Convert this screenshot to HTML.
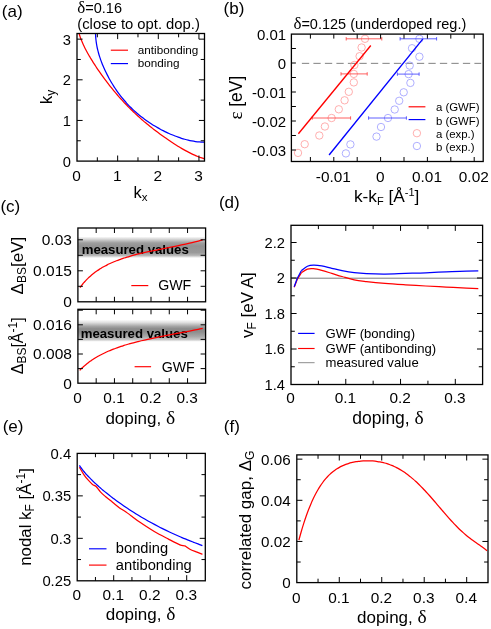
<!DOCTYPE html>
<html><head><meta charset="utf-8"><title>figure</title>
<style>html,body{margin:0;padding:0;background:#fff}svg{display:block;will-change:transform}text{fill:#000}</style>
</head><body>
<svg width="491" height="629" viewBox="0 0 491 629">
<rect x="0" y="0" width="491" height="629" fill="#fff"/>
<defs><linearGradient id="band" x1="0" y1="0" x2="0" y2="1"><stop offset="0" stop-color="#ffffff"/><stop offset="0.13" stop-color="#d4d4d4"/><stop offset="0.30" stop-color="#9e9e9e"/><stop offset="0.45" stop-color="#929292"/><stop offset="0.75" stop-color="#9a9a9a"/><stop offset="0.88" stop-color="#b6b6b6"/><stop offset="1" stop-color="#ffffff"/></linearGradient><linearGradient id="band2" x1="0" y1="0" x2="0" y2="1"><stop offset="0" stop-color="#ffffff"/><stop offset="0.14" stop-color="#dedede"/><stop offset="0.30" stop-color="#a6a6a6"/><stop offset="0.42" stop-color="#8a8a8a"/><stop offset="0.56" stop-color="#8e8e8e"/><stop offset="0.76" stop-color="#a8a8a8"/><stop offset="0.90" stop-color="#c6c6c6"/><stop offset="1" stop-color="#ffffff"/></linearGradient></defs>
<text x="1.8" y="16.8" font-size="17" text-anchor="start" font-family='"Liberation Sans", sans-serif' font-weight="normal" >(a)</text>
<text x="77.3" y="12.5" font-size="14.5" font-family='"Liberation Sans", sans-serif'><tspan font-family='"Liberation Serif", serif' font-size="17">δ</tspan>=0.16</text>
<text x="77.3" y="28.7" font-size="14.8" text-anchor="start" font-family='"Liberation Sans", sans-serif' font-weight="normal" >(close to opt. dop.)</text>
<clipPath id="clipa"><rect x="77" y="33.5" width="127.5" height="127.6"/></clipPath>
<g clip-path="url(#clipa)">
<path d="M78.13 30.32C78.29 30.88 78.74 32.58 79.08 33.68C79.42 34.78 79.78 35.86 80.16 36.92C80.53 37.98 80.93 39.02 81.34 40.05C81.75 41.08 82.17 42.09 82.61 43.09C83.05 44.08 83.51 45.07 83.97 46.04C84.43 47.01 84.91 47.97 85.4 48.92C85.88 49.88 86.38 50.82 86.89 51.75C87.39 52.68 87.9 53.6 88.43 54.52C88.95 55.44 89.48 56.34 90.01 57.25C90.55 58.15 91.09 59.04 91.64 59.93C92.18 60.82 92.74 61.7 93.3 62.58C93.86 63.46 94.42 64.33 94.99 65.2C95.56 66.07 96.13 66.93 96.71 67.79C97.29 68.65 97.87 69.51 98.46 70.36C99.04 71.21 99.63 72.06 100.23 72.9C100.82 73.74 101.42 74.58 102.02 75.42C102.62 76.25 103.23 77.08 103.84 77.91C104.45 78.74 105.06 79.56 105.68 80.39C106.29 81.21 106.91 82.02 107.54 82.84C108.16 83.65 108.79 84.46 109.42 85.26C110.05 86.07 110.69 86.87 111.33 87.67C111.97 88.46 112.61 89.26 113.26 90.05C113.91 90.84 114.56 91.62 115.22 92.4C115.87 93.19 116.53 93.96 117.2 94.74C117.86 95.51 118.53 96.28 119.2 97.04C119.87 97.8 120.55 98.56 121.23 99.32C121.92 100.08 122.6 100.83 123.29 101.57C123.98 102.32 124.68 103.06 125.38 103.8C126.08 104.53 126.78 105.27 127.49 106C128.2 106.72 128.92 107.45 129.63 108.17C130.35 108.88 131.08 109.6 131.8 110.31C132.53 111.02 133.27 111.72 134 112.42C134.74 113.12 135.48 113.82 136.23 114.51C136.97 115.2 137.72 115.88 138.48 116.57C139.24 117.25 140 117.93 140.76 118.6C141.52 119.27 142.29 119.94 143.06 120.6C143.84 121.27 144.61 121.93 145.4 122.58C146.18 123.24 146.96 123.89 147.75 124.54C148.54 125.19 149.34 125.83 150.13 126.47C150.93 127.11 151.73 127.75 152.54 128.38C153.34 129.01 154.15 129.64 154.96 130.26C155.78 130.89 156.59 131.51 157.41 132.12C158.24 132.74 159.06 133.35 159.89 133.96C160.72 134.57 161.55 135.18 162.38 135.78C163.22 136.38 164.06 136.98 164.9 137.57C165.74 138.17 166.59 138.76 167.44 139.34C168.29 139.93 169.15 140.51 170.01 141.09C170.87 141.67 171.73 142.24 172.6 142.81C173.47 143.38 174.34 143.94 175.22 144.5C176.1 145.06 176.98 145.62 177.87 146.16C178.76 146.71 179.65 147.25 180.55 147.79C181.46 148.32 182.36 148.85 183.28 149.37C184.2 149.9 185.12 150.41 186.05 150.91C186.98 151.42 187.92 151.92 188.88 152.4C189.83 152.89 190.79 153.37 191.76 153.83C192.73 154.29 193.72 154.75 194.71 155.19C195.71 155.63 196.72 156.05 197.75 156.46C198.78 156.87 199.82 157.27 200.88 157.64C201.94 158.02 203.02 158.38 204.12 158.72C205.22 159.06 206.92 159.51 207.48 159.67" fill="none" stroke="#ff0000" stroke-width="1.25" stroke-linejoin="round" />
<path d="M98.2 10.25C98 11.17 97.35 13.98 97.01 15.75C96.68 17.52 96.41 19.23 96.2 20.88C95.98 22.53 95.82 24.13 95.71 25.68C95.59 27.23 95.53 28.73 95.51 30.19C95.48 31.65 95.5 33.07 95.56 34.46C95.61 35.84 95.7 37.18 95.82 38.5C95.94 39.82 96.1 41.1 96.27 42.36C96.45 43.62 96.66 44.85 96.89 46.06C97.12 47.26 97.37 48.45 97.65 49.61C97.92 50.77 98.22 51.91 98.53 53.04C98.84 54.17 99.17 55.27 99.52 56.36C99.86 57.46 100.22 58.53 100.6 59.59C100.97 60.65 101.36 61.7 101.77 62.74C102.17 63.77 102.58 64.8 103.01 65.81C103.43 66.82 103.87 67.82 104.32 68.81C104.76 69.8 105.22 70.78 105.69 71.75C106.16 72.72 106.63 73.68 107.12 74.63C107.61 75.58 108.1 76.52 108.61 77.46C109.11 78.39 109.62 79.31 110.15 80.23C110.67 81.14 111.2 82.05 111.74 82.95C112.28 83.84 112.82 84.73 113.38 85.61C113.94 86.5 114.5 87.37 115.08 88.23C115.65 89.09 116.23 89.95 116.82 90.79C117.42 91.64 118.02 92.48 118.62 93.31C119.23 94.14 119.85 94.95 120.48 95.77C121.1 96.58 121.74 97.38 122.38 98.17C123.03 98.96 123.68 99.75 124.34 100.52C125.01 101.29 125.68 102.06 126.36 102.82C127.04 103.57 127.73 104.32 128.43 105.06C129.13 105.79 129.84 106.52 130.56 107.24C131.28 107.96 132.01 108.67 132.74 109.37C133.48 110.07 134.23 110.76 134.98 111.44C135.74 112.12 136.51 112.79 137.28 113.46C138.05 114.12 138.84 114.77 139.63 115.42C140.42 116.06 141.22 116.7 142.03 117.32C142.85 117.95 143.66 118.57 144.49 119.18C145.32 119.78 146.16 120.38 147.01 120.98C147.85 121.57 148.71 122.15 149.57 122.72C150.43 123.3 151.3 123.86 152.19 124.42C153.07 124.98 153.96 125.52 154.85 126.06C155.75 126.6 156.66 127.13 157.57 127.65C158.49 128.18 159.41 128.69 160.34 129.19C161.28 129.7 162.22 130.19 163.17 130.68C164.12 131.17 165.08 131.64 166.05 132.11C167.02 132.58 168 133.04 168.99 133.48C169.98 133.93 170.98 134.37 171.99 134.79C173 135.22 174.03 135.63 175.06 136.03C176.1 136.44 177.15 136.83 178.21 137.2C179.27 137.58 180.34 137.94 181.44 138.28C182.53 138.63 183.63 138.96 184.76 139.27C185.89 139.58 187.03 139.88 188.19 140.15C189.35 140.43 190.54 140.68 191.74 140.91C192.95 141.14 194.18 141.35 195.44 141.53C196.7 141.7 197.98 141.86 199.3 141.98C200.62 142.1 201.96 142.19 203.34 142.24C204.73 142.3 206.15 142.32 207.61 142.29C209.07 142.27 210.57 142.21 212.12 142.09C213.67 141.98 215.27 141.82 216.92 141.6C218.57 141.39 220.28 141.12 222.05 140.79C223.82 140.45 226.63 139.8 227.55 139.6" fill="none" stroke="#0000ff" stroke-width="1.25" stroke-linejoin="round" />
</g>
<rect x="77" y="33.5" width="127.5" height="127.6" fill="none" stroke="#000" stroke-width="1.3"/>
<line x1="117.65" y1="161.1" x2="117.65" y2="155.5" stroke="#000" stroke-width="1.0" />
<line x1="117.65" y1="33.5" x2="117.65" y2="39.1" stroke="#000" stroke-width="1.0" />
<line x1="158.3" y1="161.1" x2="158.3" y2="155.5" stroke="#000" stroke-width="1.0" />
<line x1="158.3" y1="33.5" x2="158.3" y2="39.1" stroke="#000" stroke-width="1.0" />
<line x1="198.95" y1="161.1" x2="198.95" y2="155.5" stroke="#000" stroke-width="1.0" />
<line x1="198.95" y1="33.5" x2="198.95" y2="39.1" stroke="#000" stroke-width="1.0" />
<line x1="97.33" y1="161.1" x2="97.33" y2="157.3" stroke="#000" stroke-width="1.0" />
<line x1="97.33" y1="33.5" x2="97.33" y2="37.3" stroke="#000" stroke-width="1.0" />
<line x1="137.97" y1="161.1" x2="137.97" y2="157.3" stroke="#000" stroke-width="1.0" />
<line x1="137.97" y1="33.5" x2="137.97" y2="37.3" stroke="#000" stroke-width="1.0" />
<line x1="178.62" y1="161.1" x2="178.62" y2="157.3" stroke="#000" stroke-width="1.0" />
<line x1="178.62" y1="33.5" x2="178.62" y2="37.3" stroke="#000" stroke-width="1.0" />
<line x1="77" y1="120.45" x2="82.6" y2="120.45" stroke="#000" stroke-width="1.0" />
<line x1="204.5" y1="120.45" x2="198.9" y2="120.45" stroke="#000" stroke-width="1.0" />
<line x1="77" y1="79.8" x2="82.6" y2="79.8" stroke="#000" stroke-width="1.0" />
<line x1="204.5" y1="79.8" x2="198.9" y2="79.8" stroke="#000" stroke-width="1.0" />
<line x1="77" y1="39.15" x2="82.6" y2="39.15" stroke="#000" stroke-width="1.0" />
<line x1="204.5" y1="39.15" x2="198.9" y2="39.15" stroke="#000" stroke-width="1.0" />
<line x1="77" y1="140.78" x2="80.8" y2="140.78" stroke="#000" stroke-width="1.0" />
<line x1="204.5" y1="140.78" x2="200.7" y2="140.78" stroke="#000" stroke-width="1.0" />
<line x1="77" y1="100.12" x2="80.8" y2="100.12" stroke="#000" stroke-width="1.0" />
<line x1="204.5" y1="100.12" x2="200.7" y2="100.12" stroke="#000" stroke-width="1.0" />
<line x1="77" y1="59.47" x2="80.8" y2="59.47" stroke="#000" stroke-width="1.0" />
<line x1="204.5" y1="59.47" x2="200.7" y2="59.47" stroke="#000" stroke-width="1.0" />
<text x="76.6" y="180.8" font-size="15.4" text-anchor="middle" font-family='"Liberation Sans", sans-serif' font-weight="normal" >0</text>
<text x="71" y="166.7" font-size="14.7" text-anchor="end" font-family='"Liberation Sans", sans-serif' font-weight="normal" >0</text>
<text x="117.25" y="180.8" font-size="15.4" text-anchor="middle" font-family='"Liberation Sans", sans-serif' font-weight="normal" >1</text>
<text x="71" y="126.05" font-size="14.7" text-anchor="end" font-family='"Liberation Sans", sans-serif' font-weight="normal" >1</text>
<text x="157.9" y="180.8" font-size="15.4" text-anchor="middle" font-family='"Liberation Sans", sans-serif' font-weight="normal" >2</text>
<text x="71" y="85.4" font-size="14.7" text-anchor="end" font-family='"Liberation Sans", sans-serif' font-weight="normal" >2</text>
<text x="198.55" y="180.8" font-size="15.4" text-anchor="middle" font-family='"Liberation Sans", sans-serif' font-weight="normal" >3</text>
<text x="71" y="44.75" font-size="14.7" text-anchor="end" font-family='"Liberation Sans", sans-serif' font-weight="normal" >3</text>
<line x1="110.8" y1="50.2" x2="128" y2="50.2" stroke="#ff0000" stroke-width="1.15" />
<line x1="110.8" y1="63.6" x2="128" y2="63.6" stroke="#0000ff" stroke-width="1.15" />
<text x="137.8" y="54.2" font-size="11.7" text-anchor="start" font-family='"Liberation Sans", sans-serif' font-weight="normal" >antibonding</text>
<text x="137.8" y="67" font-size="11.7" text-anchor="start" font-family='"Liberation Sans", sans-serif' font-weight="normal" >bonding</text>
<text x="133.6" y="198.2" font-size="16.5" font-family='"Liberation Sans", sans-serif'>k<tspan font-size="11.5" dy="3">x</tspan></text>
<text transform="translate(52.3 104.3) rotate(-90)" font-size="17" font-family='"Liberation Sans", sans-serif'>k<tspan font-size="12" dy="3">y</tspan></text>
<text x="223.6" y="14" font-size="17" text-anchor="start" font-family='"Liberation Sans", sans-serif' font-weight="normal" >(b)</text>
<text x="293.4" y="29" font-size="14.5" font-family='"Liberation Sans", sans-serif'><tspan font-family='"Liberation Serif", serif' font-size="17">δ</tspan>=0.125 (underdoped reg.)</text>
<line x1="301.9" y1="63.35" x2="481.2" y2="63.35" stroke="#6a6a6a" stroke-width="0.85" stroke-dasharray="7.3 4.2"/>
<circle cx="365" cy="38.8" r="3.7" fill="none" stroke="#ff9a9a" stroke-width="0.8"/>
<circle cx="361.6" cy="47.5" r="3.7" fill="none" stroke="#ff9a9a" stroke-width="0.8"/>
<circle cx="359.6" cy="56.2" r="3.7" fill="none" stroke="#ff9a9a" stroke-width="0.8"/>
<circle cx="354.4" cy="65" r="3.7" fill="none" stroke="#ff9a9a" stroke-width="0.8"/>
<circle cx="353.8" cy="73.9" r="3.7" fill="none" stroke="#ff9a9a" stroke-width="0.8"/>
<circle cx="353.8" cy="82.4" r="3.7" fill="none" stroke="#ff9a9a" stroke-width="0.8"/>
<circle cx="348.8" cy="91.8" r="3.7" fill="none" stroke="#ff9a9a" stroke-width="0.8"/>
<circle cx="344.6" cy="100.3" r="3.7" fill="none" stroke="#ff9a9a" stroke-width="0.8"/>
<circle cx="338.8" cy="109.3" r="3.7" fill="none" stroke="#ff9a9a" stroke-width="0.8"/>
<circle cx="331.6" cy="118" r="3.7" fill="none" stroke="#ff9a9a" stroke-width="0.8"/>
<circle cx="324.9" cy="126.5" r="3.7" fill="none" stroke="#ff9a9a" stroke-width="0.8"/>
<circle cx="319.3" cy="135.5" r="3.7" fill="none" stroke="#ff9a9a" stroke-width="0.8"/>
<circle cx="304.7" cy="144.2" r="3.7" fill="none" stroke="#ff9a9a" stroke-width="0.8"/>
<circle cx="298" cy="152.9" r="3.7" fill="none" stroke="#ff9a9a" stroke-width="0.8"/>
<circle cx="419.4" cy="38.8" r="3.7" fill="none" stroke="#9a9aff" stroke-width="0.8"/>
<circle cx="412" cy="48.2" r="3.7" fill="none" stroke="#9a9aff" stroke-width="0.8"/>
<circle cx="419.4" cy="56.7" r="3.7" fill="none" stroke="#9a9aff" stroke-width="0.8"/>
<circle cx="409.7" cy="65.6" r="3.7" fill="none" stroke="#9a9aff" stroke-width="0.8"/>
<circle cx="408.6" cy="74.1" r="3.7" fill="none" stroke="#9a9aff" stroke-width="0.8"/>
<circle cx="410.4" cy="82.9" r="3.7" fill="none" stroke="#9a9aff" stroke-width="0.8"/>
<circle cx="403.7" cy="92.3" r="3.7" fill="none" stroke="#9a9aff" stroke-width="0.8"/>
<circle cx="399.2" cy="100.8" r="3.7" fill="none" stroke="#9a9aff" stroke-width="0.8"/>
<circle cx="394.7" cy="109.5" r="3.7" fill="none" stroke="#9a9aff" stroke-width="0.8"/>
<circle cx="388" cy="118" r="3.7" fill="none" stroke="#9a9aff" stroke-width="0.8"/>
<circle cx="381" cy="127" r="3.7" fill="none" stroke="#9a9aff" stroke-width="0.8"/>
<circle cx="376.5" cy="136.6" r="3.7" fill="none" stroke="#9a9aff" stroke-width="0.8"/>
<circle cx="350.4" cy="144.4" r="3.7" fill="none" stroke="#9a9aff" stroke-width="0.8"/>
<circle cx="345.9" cy="153.4" r="3.7" fill="none" stroke="#9a9aff" stroke-width="0.8"/>
<line x1="346.2" y1="38.8" x2="381.8" y2="38.8" stroke="#ff3838" stroke-width="0.8" />
<line x1="346.2" y1="37.1" x2="346.2" y2="40.5" stroke="#ff3838" stroke-width="0.8" />
<line x1="381.8" y1="37.1" x2="381.8" y2="40.5" stroke="#ff3838" stroke-width="0.8" />
<line x1="341" y1="73.9" x2="367.2" y2="73.9" stroke="#ff3838" stroke-width="0.8" />
<line x1="341" y1="72.2" x2="341" y2="75.6" stroke="#ff3838" stroke-width="0.8" />
<line x1="367.2" y1="72.2" x2="367.2" y2="75.6" stroke="#ff3838" stroke-width="0.8" />
<line x1="312.3" y1="118" x2="350.6" y2="118" stroke="#ff3838" stroke-width="0.8" />
<line x1="312.3" y1="116.3" x2="312.3" y2="119.7" stroke="#ff3838" stroke-width="0.8" />
<line x1="350.6" y1="116.3" x2="350.6" y2="119.7" stroke="#ff3838" stroke-width="0.8" />
<line x1="400.1" y1="38.8" x2="436.6" y2="38.8" stroke="#3838ff" stroke-width="0.8" />
<line x1="400.1" y1="37.1" x2="400.1" y2="40.5" stroke="#3838ff" stroke-width="0.8" />
<line x1="436.6" y1="37.1" x2="436.6" y2="40.5" stroke="#3838ff" stroke-width="0.8" />
<line x1="397.4" y1="74.1" x2="419.1" y2="74.1" stroke="#3838ff" stroke-width="0.8" />
<line x1="397.4" y1="72.4" x2="397.4" y2="75.8" stroke="#3838ff" stroke-width="0.8" />
<line x1="419.1" y1="72.4" x2="419.1" y2="75.8" stroke="#3838ff" stroke-width="0.8" />
<line x1="368.6" y1="118" x2="406.4" y2="118" stroke="#3838ff" stroke-width="0.8" />
<line x1="368.6" y1="116.3" x2="368.6" y2="119.7" stroke="#3838ff" stroke-width="0.8" />
<line x1="406.4" y1="116.3" x2="406.4" y2="119.7" stroke="#3838ff" stroke-width="0.8" />
<line x1="298.4" y1="133.7" x2="370.8" y2="45.5" stroke="#ff0000" stroke-width="1.35" />
<line x1="329.1" y1="155" x2="422.7" y2="39.2" stroke="#0000ff" stroke-width="1.35" />
<rect x="291.4" y="34.1" width="191.8" height="127.4" fill="none" stroke="#000" stroke-width="1.3"/>
<line x1="310.4" y1="161.5" x2="310.4" y2="157" stroke="#000" stroke-width="1.0" />
<line x1="310.4" y1="34.1" x2="310.4" y2="38.6" stroke="#000" stroke-width="1.0" />
<line x1="333.8" y1="161.5" x2="333.8" y2="157" stroke="#000" stroke-width="1.0" />
<line x1="333.8" y1="34.1" x2="333.8" y2="38.6" stroke="#000" stroke-width="1.0" />
<line x1="357.2" y1="161.5" x2="357.2" y2="157" stroke="#000" stroke-width="1.0" />
<line x1="357.2" y1="34.1" x2="357.2" y2="38.6" stroke="#000" stroke-width="1.0" />
<line x1="380.6" y1="161.5" x2="380.6" y2="157" stroke="#000" stroke-width="1.0" />
<line x1="380.6" y1="34.1" x2="380.6" y2="38.6" stroke="#000" stroke-width="1.0" />
<line x1="404" y1="161.5" x2="404" y2="157" stroke="#000" stroke-width="1.0" />
<line x1="404" y1="34.1" x2="404" y2="38.6" stroke="#000" stroke-width="1.0" />
<line x1="427.4" y1="161.5" x2="427.4" y2="157" stroke="#000" stroke-width="1.0" />
<line x1="427.4" y1="34.1" x2="427.4" y2="38.6" stroke="#000" stroke-width="1.0" />
<line x1="450.8" y1="161.5" x2="450.8" y2="157" stroke="#000" stroke-width="1.0" />
<line x1="450.8" y1="34.1" x2="450.8" y2="38.6" stroke="#000" stroke-width="1.0" />
<line x1="474.2" y1="161.5" x2="474.2" y2="157" stroke="#000" stroke-width="1.0" />
<line x1="474.2" y1="34.1" x2="474.2" y2="38.6" stroke="#000" stroke-width="1.0" />
<line x1="291.4" y1="48.5" x2="295.9" y2="48.5" stroke="#000" stroke-width="1.0" />
<line x1="291.4" y1="63" x2="295.9" y2="63" stroke="#000" stroke-width="1.0" />
<line x1="291.4" y1="77.5" x2="295.9" y2="77.5" stroke="#000" stroke-width="1.0" />
<line x1="291.4" y1="92" x2="295.9" y2="92" stroke="#000" stroke-width="1.0" />
<line x1="291.4" y1="106.5" x2="295.9" y2="106.5" stroke="#000" stroke-width="1.0" />
<line x1="291.4" y1="121" x2="295.9" y2="121" stroke="#000" stroke-width="1.0" />
<line x1="291.4" y1="135.5" x2="295.9" y2="135.5" stroke="#000" stroke-width="1.0" />
<line x1="291.4" y1="150" x2="295.9" y2="150" stroke="#000" stroke-width="1.0" />
<text x="333.4" y="181.6" font-size="15.4" text-anchor="middle" font-family='"Liberation Sans", sans-serif' font-weight="normal" >-0.01</text>
<text x="380.2" y="181.6" font-size="15.4" text-anchor="middle" font-family='"Liberation Sans", sans-serif' font-weight="normal" >0</text>
<text x="427" y="181.6" font-size="15.4" text-anchor="middle" font-family='"Liberation Sans", sans-serif' font-weight="normal" >0.01</text>
<text x="473.8" y="181.6" font-size="15.4" text-anchor="middle" font-family='"Liberation Sans", sans-serif' font-weight="normal" >0.02</text>
<text x="286.2" y="39.8" font-size="15.0" text-anchor="end" font-family='"Liberation Sans", sans-serif' font-weight="normal" >0.01</text>
<text x="286.2" y="68.8" font-size="15.0" text-anchor="end" font-family='"Liberation Sans", sans-serif' font-weight="normal" >0</text>
<text x="286.2" y="97.8" font-size="15.0" text-anchor="end" font-family='"Liberation Sans", sans-serif' font-weight="normal" >-0.01</text>
<text x="286.2" y="126.8" font-size="15.0" text-anchor="end" font-family='"Liberation Sans", sans-serif' font-weight="normal" >-0.02</text>
<text x="286.2" y="155.8" font-size="15.0" text-anchor="end" font-family='"Liberation Sans", sans-serif' font-weight="normal" >-0.03</text>
<line x1="408.6" y1="106.8" x2="425.4" y2="106.8" stroke="#ff0000" stroke-width="1.15" />
<line x1="408.6" y1="119.6" x2="425.4" y2="119.6" stroke="#0000ff" stroke-width="1.15" />
<circle cx="416.9" cy="133.2" r="3.7" fill="none" stroke="#ff9a9a" stroke-width="0.8"/>
<circle cx="416.9" cy="146" r="3.7" fill="none" stroke="#9a9aff" stroke-width="0.8"/>
<text x="435.9" y="111.3" font-size="11.4" text-anchor="start" font-family='"Liberation Sans", sans-serif' font-weight="normal" >a (GWF)</text>
<text x="435.9" y="124.7" font-size="11.4" text-anchor="start" font-family='"Liberation Sans", sans-serif' font-weight="normal" >b (GWF)</text>
<text x="435.9" y="137.7" font-size="11.4" text-anchor="start" font-family='"Liberation Sans", sans-serif' font-weight="normal" >a (exp.)</text>
<text x="435.9" y="150.5" font-size="11.4" text-anchor="start" font-family='"Liberation Sans", sans-serif' font-weight="normal" >b (exp.)</text>
<text x="353.9" y="202.3" font-size="17.3" font-family='"Liberation Sans", sans-serif'>k-k<tspan font-size="11" dy="3">F</tspan><tspan dy="-3"> [Å</tspan><tspan font-size="11" dy="-6">-1</tspan><tspan dy="6">]</tspan></text>
<text transform="translate(242.2 119.6) rotate(-90)" font-size="17.5" font-family='"Liberation Sans", sans-serif'><tspan font-family='"Liberation Serif", serif' font-size="19">ε</tspan> [eV]</text>
<text x="0.4" y="211.5" font-size="17" text-anchor="start" font-family='"Liberation Sans", sans-serif' font-weight="normal" >(c)</text>
<rect x="77.9" y="236.5" width="127.7" height="21.5" fill="url(#band)"/>
<text x="81.7" y="253.9" font-size="13.2" text-anchor="start" font-family='"Liberation Sans", sans-serif' font-weight="bold" >measured values</text>
<path d="M80 287.71C80.1 287.56 80.4 287.12 80.61 286.81C80.83 286.5 81.06 286.18 81.31 285.85C81.55 285.52 81.81 285.18 82.08 284.83C82.35 284.48 82.63 284.12 82.93 283.76C83.23 283.4 83.54 283.02 83.86 282.65C84.18 282.27 84.52 281.89 84.87 281.5C85.22 281.11 85.58 280.72 85.95 280.32C86.33 279.93 86.72 279.53 87.12 279.12C87.52 278.72 87.94 278.32 88.36 277.91C88.79 277.5 89.23 277.09 89.69 276.68C90.14 276.27 90.61 275.86 91.09 275.45C91.57 275.04 92.06 274.63 92.57 274.22C93.08 273.81 93.6 273.4 94.13 273C94.66 272.59 95.21 272.18 95.77 271.78C96.33 271.38 96.9 270.97 97.48 270.57C98.07 270.18 98.67 269.78 99.28 269.39C99.89 268.99 100.52 268.6 101.15 268.22C101.79 267.83 102.44 267.45 103.11 267.07C103.77 266.69 104.45 266.31 105.14 265.94C105.83 265.57 106.53 265.21 107.25 264.84C107.96 264.48 108.69 264.13 109.44 263.77C110.18 263.42 110.94 263.07 111.71 262.73C112.47 262.39 113.26 262.05 114.05 261.72C114.85 261.39 115.66 261.06 116.48 260.74C117.3 260.42 118.13 260.1 118.98 259.79C119.83 259.48 120.69 259.17 121.56 258.87C122.44 258.56 123.33 258.27 124.23 257.97C125.13 257.68 126.04 257.39 126.97 257.11C127.89 256.83 128.83 256.55 129.79 256.28C130.74 256 131.7 255.73 132.68 255.46C133.66 255.2 134.65 254.94 135.66 254.68C136.66 254.42 137.68 254.16 138.71 253.91C139.75 253.66 140.79 253.41 141.85 253.16C142.91 252.92 143.98 252.67 145.06 252.43C146.15 252.19 147.24 251.95 148.35 251.71C149.46 251.47 150.59 251.23 151.72 251C152.86 250.76 154.01 250.52 155.17 250.29C156.33 250.05 157.51 249.81 158.7 249.57C159.89 249.34 161.09 249.1 162.31 248.86C163.52 248.61 164.75 248.37 165.99 248.13C167.23 247.88 168.49 247.63 169.75 247.38C171.02 247.12 172.3 246.87 173.6 246.61C174.89 246.34 176.2 246.08 177.52 245.81C178.84 245.53 180.17 245.25 181.52 244.97C182.87 244.68 184.22 244.39 185.6 244.08C186.97 243.78 188.36 243.47 189.75 243.15C191.15 242.83 192.57 242.5 193.99 242.15C195.42 241.81 196.85 241.46 198.31 241.09C199.76 240.72 201.97 240.14 202.7 239.95" fill="none" stroke="#ff0000" stroke-width="1.25" stroke-linejoin="round" />
<rect x="77.9" y="228" width="127.7" height="73.8" fill="none" stroke="#000" stroke-width="1.3"/>
<line x1="96.18" y1="301.8" x2="96.18" y2="296.8" stroke="#000" stroke-width="1.0" />
<line x1="96.18" y1="228" x2="96.18" y2="233" stroke="#000" stroke-width="1.0" />
<line x1="114.45" y1="301.8" x2="114.45" y2="296.8" stroke="#000" stroke-width="1.0" />
<line x1="114.45" y1="228" x2="114.45" y2="233" stroke="#000" stroke-width="1.0" />
<line x1="132.72" y1="301.8" x2="132.72" y2="296.8" stroke="#000" stroke-width="1.0" />
<line x1="132.72" y1="228" x2="132.72" y2="233" stroke="#000" stroke-width="1.0" />
<line x1="151" y1="301.8" x2="151" y2="296.8" stroke="#000" stroke-width="1.0" />
<line x1="151" y1="228" x2="151" y2="233" stroke="#000" stroke-width="1.0" />
<line x1="169.28" y1="301.8" x2="169.28" y2="296.8" stroke="#000" stroke-width="1.0" />
<line x1="169.28" y1="228" x2="169.28" y2="233" stroke="#000" stroke-width="1.0" />
<line x1="187.55" y1="301.8" x2="187.55" y2="296.8" stroke="#000" stroke-width="1.0" />
<line x1="187.55" y1="228" x2="187.55" y2="233" stroke="#000" stroke-width="1.0" />
<line x1="77.9" y1="286.3" x2="82.9" y2="286.3" stroke="#000" stroke-width="1.0" />
<line x1="205.6" y1="286.3" x2="200.6" y2="286.3" stroke="#000" stroke-width="1.0" />
<line x1="77.9" y1="270.8" x2="82.9" y2="270.8" stroke="#000" stroke-width="1.0" />
<line x1="205.6" y1="270.8" x2="200.6" y2="270.8" stroke="#000" stroke-width="1.0" />
<line x1="77.9" y1="255.3" x2="82.9" y2="255.3" stroke="#000" stroke-width="1.0" />
<line x1="205.6" y1="255.3" x2="200.6" y2="255.3" stroke="#000" stroke-width="1.0" />
<line x1="77.9" y1="239.8" x2="82.9" y2="239.8" stroke="#000" stroke-width="1.0" />
<line x1="205.6" y1="239.8" x2="200.6" y2="239.8" stroke="#000" stroke-width="1.0" />
<text x="71.9" y="307.2" font-size="15.5" text-anchor="end" font-family='"Liberation Sans", sans-serif' font-weight="normal" >0</text>
<text x="71.9" y="276.2" font-size="15.5" text-anchor="end" font-family='"Liberation Sans", sans-serif' font-weight="normal" >0.015</text>
<text x="71.9" y="245.2" font-size="15.5" text-anchor="end" font-family='"Liberation Sans", sans-serif' font-weight="normal" >0.03</text>
<line x1="131.3" y1="285.6" x2="148.3" y2="285.6" stroke="#ff0000" stroke-width="1.15" />
<text x="158.2" y="290.4" font-size="14.2" text-anchor="start" font-family='"Liberation Sans", sans-serif' font-weight="normal" >GWF</text>
<text transform="translate(22.7 294.4) rotate(-90)" font-size="17" font-family='"Liberation Sans", sans-serif'>Δ<tspan font-size="12" dy="3">BS</tspan><tspan dy="-3">[eV]</tspan></text>
<rect x="77.9" y="319.5" width="127.7" height="22.3" fill="url(#band2)"/>
<text x="80.7" y="337.8" font-size="13.2" text-anchor="start" font-family='"Liberation Sans", sans-serif' font-weight="bold" >measured values</text>
<path d="M79.7 370.35C79.8 370.25 80.07 369.96 80.28 369.75C80.48 369.54 80.7 369.31 80.94 369.08C81.17 368.85 81.42 368.6 81.68 368.35C81.94 368.1 82.21 367.84 82.5 367.57C82.78 367.3 83.08 367.02 83.4 366.74C83.71 366.46 84.04 366.17 84.38 365.87C84.72 365.57 85.07 365.27 85.44 364.97C85.81 364.66 86.19 364.35 86.58 364.03C86.98 363.71 87.38 363.39 87.8 363.07C88.23 362.75 88.66 362.42 89.11 362.09C89.55 361.76 90.02 361.42 90.49 361.09C90.97 360.76 91.45 360.42 91.95 360.08C92.46 359.74 92.97 359.4 93.5 359.06C94.03 358.72 94.57 358.38 95.12 358.04C95.68 357.7 96.25 357.36 96.83 357.02C97.41 356.68 98.01 356.34 98.61 356C99.22 355.66 99.85 355.32 100.48 354.99C101.12 354.65 101.77 354.31 102.43 353.98C103.09 353.65 103.77 353.31 104.46 352.98C105.14 352.65 105.85 352.33 106.56 352C107.28 351.67 108.01 351.35 108.75 351.03C109.49 350.71 110.25 350.39 111.02 350.08C111.79 349.76 112.57 349.45 113.37 349.14C114.17 348.83 114.98 348.52 115.8 348.22C116.62 347.91 117.46 347.61 118.31 347.32C119.16 347.02 120.02 346.72 120.9 346.43C121.78 346.14 122.67 345.85 123.57 345.57C124.47 345.29 125.39 345 126.32 344.73C127.25 344.45 128.2 344.17 129.15 343.9C130.11 343.63 131.08 343.36 132.07 343.09C133.05 342.82 134.05 342.56 135.06 342.3C136.07 342.04 137.1 341.78 138.13 341.53C139.17 341.27 140.22 341.02 141.29 340.76C142.35 340.51 143.43 340.26 144.52 340.02C145.61 339.77 146.72 339.52 147.84 339.28C148.96 339.04 150.09 338.79 151.23 338.55C152.38 338.31 153.54 338.07 154.71 337.83C155.88 337.59 157.07 337.35 158.27 337.11C159.47 336.87 160.68 336.63 161.9 336.39C163.13 336.15 164.37 335.91 165.62 335.67C166.87 335.43 168.14 335.18 169.42 334.94C170.7 334.69 171.99 334.45 173.3 334.2C174.6 333.95 175.92 333.7 177.26 333.44C178.59 333.19 179.94 332.93 181.3 332.67C182.66 332.41 184.03 332.14 185.42 331.87C186.8 331.6 188.2 331.33 189.62 331.05C191.03 330.77 192.46 330.48 193.9 330.19C195.34 329.89 196.79 329.59 198.26 329.29C199.73 328.98 201.96 328.5 202.7 328.34" fill="none" stroke="#ff0000" stroke-width="1.25" stroke-linejoin="round" />
<rect x="77.9" y="309.3" width="127.7" height="73.9" fill="none" stroke="#000" stroke-width="1.3"/>
<line x1="96.18" y1="383.2" x2="96.18" y2="378.2" stroke="#000" stroke-width="1.0" />
<line x1="96.18" y1="309.3" x2="96.18" y2="314.3" stroke="#000" stroke-width="1.0" />
<line x1="114.45" y1="383.2" x2="114.45" y2="378.2" stroke="#000" stroke-width="1.0" />
<line x1="114.45" y1="309.3" x2="114.45" y2="314.3" stroke="#000" stroke-width="1.0" />
<line x1="132.72" y1="383.2" x2="132.72" y2="378.2" stroke="#000" stroke-width="1.0" />
<line x1="132.72" y1="309.3" x2="132.72" y2="314.3" stroke="#000" stroke-width="1.0" />
<line x1="151" y1="383.2" x2="151" y2="378.2" stroke="#000" stroke-width="1.0" />
<line x1="151" y1="309.3" x2="151" y2="314.3" stroke="#000" stroke-width="1.0" />
<line x1="169.28" y1="383.2" x2="169.28" y2="378.2" stroke="#000" stroke-width="1.0" />
<line x1="169.28" y1="309.3" x2="169.28" y2="314.3" stroke="#000" stroke-width="1.0" />
<line x1="187.55" y1="383.2" x2="187.55" y2="378.2" stroke="#000" stroke-width="1.0" />
<line x1="187.55" y1="309.3" x2="187.55" y2="314.3" stroke="#000" stroke-width="1.0" />
<line x1="77.9" y1="368.6" x2="82.9" y2="368.6" stroke="#000" stroke-width="1.0" />
<line x1="205.6" y1="368.6" x2="200.6" y2="368.6" stroke="#000" stroke-width="1.0" />
<line x1="77.9" y1="354" x2="82.9" y2="354" stroke="#000" stroke-width="1.0" />
<line x1="205.6" y1="354" x2="200.6" y2="354" stroke="#000" stroke-width="1.0" />
<line x1="77.9" y1="339.4" x2="82.9" y2="339.4" stroke="#000" stroke-width="1.0" />
<line x1="205.6" y1="339.4" x2="200.6" y2="339.4" stroke="#000" stroke-width="1.0" />
<line x1="77.9" y1="324.8" x2="82.9" y2="324.8" stroke="#000" stroke-width="1.0" />
<line x1="205.6" y1="324.8" x2="200.6" y2="324.8" stroke="#000" stroke-width="1.0" />
<line x1="77.9" y1="310.2" x2="82.9" y2="310.2" stroke="#000" stroke-width="1.0" />
<line x1="205.6" y1="310.2" x2="200.6" y2="310.2" stroke="#000" stroke-width="1.0" />
<text x="71.9" y="388.6" font-size="15.5" text-anchor="end" font-family='"Liberation Sans", sans-serif' font-weight="normal" >0</text>
<text x="71.9" y="359.4" font-size="15.5" text-anchor="end" font-family='"Liberation Sans", sans-serif' font-weight="normal" >0.008</text>
<text x="71.9" y="330.2" font-size="15.5" text-anchor="end" font-family='"Liberation Sans", sans-serif' font-weight="normal" >0.016</text>
<text x="77.5" y="402.7" font-size="15.4" text-anchor="middle" font-family='"Liberation Sans", sans-serif' font-weight="normal" >0</text>
<text x="114.05" y="402.7" font-size="15.4" text-anchor="middle" font-family='"Liberation Sans", sans-serif' font-weight="normal" >0.1</text>
<text x="150.6" y="402.7" font-size="15.4" text-anchor="middle" font-family='"Liberation Sans", sans-serif' font-weight="normal" >0.2</text>
<text x="187.15" y="402.7" font-size="15.4" text-anchor="middle" font-family='"Liberation Sans", sans-serif' font-weight="normal" >0.3</text>
<line x1="134.6" y1="366.7" x2="151.1" y2="366.7" stroke="#ff0000" stroke-width="1.15" />
<text x="161.7" y="372.3" font-size="14.2" text-anchor="start" font-family='"Liberation Sans", sans-serif' font-weight="normal" >GWF</text>
<text transform="translate(22.7 374.2) rotate(-90)" font-size="15.9" font-family='"Liberation Sans", sans-serif'>Δ<tspan font-size="12" dy="3">BS</tspan><tspan dy="-3">[Å</tspan><tspan font-size="12" dy="-6">-1</tspan><tspan dy="6">]</tspan></text>
<text x="105.4" y="424.2" font-size="17" font-family='"Liberation Sans", sans-serif'>doping, <tspan font-family='"Liberation Serif", serif' font-size="19.5">δ</tspan></text>
<text x="218.9" y="207.8" font-size="17" text-anchor="start" font-family='"Liberation Sans", sans-serif' font-weight="normal" >(d)</text>
<line x1="291" y1="278.2" x2="482.6" y2="278.2" stroke="#7a7a7a" stroke-width="1.0" />
<polyline points="294.2,287.3 297.2,279.5 301.3,272.8" fill="none" stroke="#ff0000" stroke-width="1.25" stroke-linejoin="round"/>
<path d="M301.3 272.8C302.32 272.18 305.37 269.78 307.4 269.1C309.43 268.42 311.12 268.48 313.5 268.7C315.88 268.92 318.65 269.62 321.7 270.4C324.75 271.18 328.42 272.38 331.8 273.4C335.18 274.42 338.27 275.42 342 276.5C345.73 277.58 350.12 279.05 354.2 279.9C358.28 280.75 361.37 281.02 366.5 281.6C371.63 282.18 378.52 282.87 385 283.4C391.48 283.93 398.62 284.37 405.4 284.8C412.18 285.23 418.92 285.62 425.7 286C432.48 286.38 439.3 286.75 446.1 287.1C452.9 287.45 461.13 287.83 466.5 288.1C471.87 288.37 476.33 288.6 478.3 288.7" fill="none" stroke="#ff0000" stroke-width="1.25" stroke-linejoin="round" />
<polyline points="294.2,286.7 297.2,278.5 301.3,270.8" fill="none" stroke="#0000ff" stroke-width="1.25" stroke-linejoin="round"/>
<path d="M301.3 270.8C302.32 270.05 305.37 267.25 307.4 266.3C309.43 265.35 311.12 265.17 313.5 265.1C315.88 265.03 318.65 265.37 321.7 265.9C324.75 266.43 328.42 267.52 331.8 268.3C335.18 269.08 338.27 269.88 342 270.6C345.73 271.32 350.12 272.1 354.2 272.6C358.28 273.1 361.37 273.37 366.5 273.6C371.63 273.83 378.52 274.03 385 274C391.48 273.97 398.62 273.6 405.4 273.4C412.18 273.2 418.92 273.07 425.7 272.8C432.48 272.53 439.3 272.07 446.1 271.8C452.9 271.53 461.13 271.37 466.5 271.2C471.87 271.03 476.33 270.87 478.3 270.8" fill="none" stroke="#0000ff" stroke-width="1.25" stroke-linejoin="round" />
<rect x="291" y="225.3" width="191.6" height="159.2" fill="none" stroke="#000" stroke-width="1.3"/>
<line x1="345.77" y1="384.5" x2="345.77" y2="378.9" stroke="#000" stroke-width="1.0" />
<line x1="345.77" y1="225.3" x2="345.77" y2="230.9" stroke="#000" stroke-width="1.0" />
<line x1="400.54" y1="384.5" x2="400.54" y2="378.9" stroke="#000" stroke-width="1.0" />
<line x1="400.54" y1="225.3" x2="400.54" y2="230.9" stroke="#000" stroke-width="1.0" />
<line x1="455.31" y1="384.5" x2="455.31" y2="378.9" stroke="#000" stroke-width="1.0" />
<line x1="455.31" y1="225.3" x2="455.31" y2="230.9" stroke="#000" stroke-width="1.0" />
<line x1="318.38" y1="384.5" x2="318.38" y2="380.7" stroke="#000" stroke-width="1.0" />
<line x1="318.38" y1="225.3" x2="318.38" y2="229.1" stroke="#000" stroke-width="1.0" />
<line x1="373.15" y1="384.5" x2="373.15" y2="380.7" stroke="#000" stroke-width="1.0" />
<line x1="373.15" y1="225.3" x2="373.15" y2="229.1" stroke="#000" stroke-width="1.0" />
<line x1="427.93" y1="384.5" x2="427.93" y2="380.7" stroke="#000" stroke-width="1.0" />
<line x1="427.93" y1="225.3" x2="427.93" y2="229.1" stroke="#000" stroke-width="1.0" />
<line x1="291" y1="349" x2="296.6" y2="349" stroke="#000" stroke-width="1.0" />
<line x1="482.6" y1="349" x2="477" y2="349" stroke="#000" stroke-width="1.0" />
<line x1="291" y1="313.5" x2="296.6" y2="313.5" stroke="#000" stroke-width="1.0" />
<line x1="482.6" y1="313.5" x2="477" y2="313.5" stroke="#000" stroke-width="1.0" />
<line x1="291" y1="278" x2="296.6" y2="278" stroke="#000" stroke-width="1.0" />
<line x1="482.6" y1="278" x2="477" y2="278" stroke="#000" stroke-width="1.0" />
<line x1="291" y1="242.5" x2="296.6" y2="242.5" stroke="#000" stroke-width="1.0" />
<line x1="482.6" y1="242.5" x2="477" y2="242.5" stroke="#000" stroke-width="1.0" />
<line x1="291" y1="366.75" x2="294.8" y2="366.75" stroke="#000" stroke-width="1.0" />
<line x1="482.6" y1="366.75" x2="478.8" y2="366.75" stroke="#000" stroke-width="1.0" />
<line x1="291" y1="331.25" x2="294.8" y2="331.25" stroke="#000" stroke-width="1.0" />
<line x1="482.6" y1="331.25" x2="478.8" y2="331.25" stroke="#000" stroke-width="1.0" />
<line x1="291" y1="295.75" x2="294.8" y2="295.75" stroke="#000" stroke-width="1.0" />
<line x1="482.6" y1="295.75" x2="478.8" y2="295.75" stroke="#000" stroke-width="1.0" />
<line x1="291" y1="260.25" x2="294.8" y2="260.25" stroke="#000" stroke-width="1.0" />
<line x1="482.6" y1="260.25" x2="478.8" y2="260.25" stroke="#000" stroke-width="1.0" />
<text x="285" y="389.9" font-size="14.7" text-anchor="end" font-family='"Liberation Sans", sans-serif' font-weight="normal" >1.4</text>
<text x="285" y="354.4" font-size="14.7" text-anchor="end" font-family='"Liberation Sans", sans-serif' font-weight="normal" >1.6</text>
<text x="285" y="318.9" font-size="14.7" text-anchor="end" font-family='"Liberation Sans", sans-serif' font-weight="normal" >1.8</text>
<text x="285" y="283.4" font-size="14.7" text-anchor="end" font-family='"Liberation Sans", sans-serif' font-weight="normal" >2</text>
<text x="285" y="247.9" font-size="14.7" text-anchor="end" font-family='"Liberation Sans", sans-serif' font-weight="normal" >2.2</text>
<text x="290.6" y="403.3" font-size="15.4" text-anchor="middle" font-family='"Liberation Sans", sans-serif' font-weight="normal" >0</text>
<text x="345.37" y="403.3" font-size="15.4" text-anchor="middle" font-family='"Liberation Sans", sans-serif' font-weight="normal" >0.1</text>
<text x="400.14" y="403.3" font-size="15.4" text-anchor="middle" font-family='"Liberation Sans", sans-serif' font-weight="normal" >0.2</text>
<text x="454.91" y="403.3" font-size="15.4" text-anchor="middle" font-family='"Liberation Sans", sans-serif' font-weight="normal" >0.3</text>
<line x1="298.1" y1="333.4" x2="314.6" y2="333.4" stroke="#0000ff" stroke-width="1.15" />
<line x1="298.1" y1="348.5" x2="314.6" y2="348.5" stroke="#ff0000" stroke-width="1.15" />
<line x1="298.1" y1="362.7" x2="314.6" y2="362.7" stroke="#808080" stroke-width="0.9" />
<text x="325.5" y="338" font-size="13.1" text-anchor="start" font-family='"Liberation Sans", sans-serif' font-weight="normal" >GWF (bonding)</text>
<text x="325.5" y="353" font-size="13.1" text-anchor="start" font-family='"Liberation Sans", sans-serif' font-weight="normal" >GWF (antibonding)</text>
<text x="325.5" y="367.3" font-size="13.1" text-anchor="start" font-family='"Liberation Sans", sans-serif' font-weight="normal" >measured value</text>
<text transform="translate(252.5 338.1) rotate(-90)" font-size="17" font-family='"Liberation Sans", sans-serif'>v<tspan font-size="12" dy="3">F</tspan><tspan dy="-3"> [eV A]</tspan></text>
<text x="352.3" y="424.2" font-size="17.5" font-family='"Liberation Sans", sans-serif'>doping, <tspan font-family='"Liberation Serif", serif' font-size="19.5">δ</tspan></text>
<text x="2.7" y="432" font-size="17" text-anchor="start" font-family='"Liberation Sans", sans-serif' font-weight="normal" >(e)</text>
<path d="M79.4 467.2C80.17 468.47 82.52 472.63 84 474.8C85.48 476.97 86.88 478.6 88.3 480.2C89.72 481.8 91.2 483.35 92.5 484.4C93.8 485.45 94.78 485.25 96.1 486.5C97.42 487.75 98.85 490.23 100.4 491.9C101.95 493.57 103.38 494.78 105.4 496.5C107.42 498.22 110.13 500.3 112.5 502.2C114.87 504.1 117.35 506.28 119.6 507.9C121.85 509.52 124.1 510.6 126 511.9C127.9 513.2 128.67 513.97 131 515.7C133.33 517.43 136.12 519.67 140 522.3C143.88 524.93 149.55 528.7 154.3 531.5C159.05 534.3 164.23 536.88 168.5 539.1C172.77 541.32 177.17 543.67 179.9 544.8C182.63 545.93 183.23 545.15 184.9 545.9C186.57 546.65 187.88 548.25 189.9 549.3C191.92 550.35 194.92 551.37 197 552.2C199.08 553.03 201.5 553.95 202.4 554.3" fill="none" stroke="#ff0000" stroke-width="1.25" stroke-linejoin="round" />
<path d="M79.4 465.36C79.5 465.52 79.8 466 80.03 466.34C80.25 466.68 80.48 467.02 80.73 467.38C80.98 467.73 81.24 468.09 81.52 468.46C81.79 468.83 82.08 469.21 82.38 469.6C82.68 469.99 82.99 470.38 83.32 470.79C83.65 471.19 83.99 471.6 84.34 472.02C84.69 472.44 85.06 472.86 85.44 473.3C85.81 473.73 86.21 474.17 86.61 474.62C87.02 475.07 87.44 475.52 87.87 475.99C88.3 476.45 88.74 476.92 89.2 477.39C89.66 477.87 90.13 478.35 90.61 478.84C91.09 479.33 91.59 479.82 92.1 480.32C92.61 480.82 93.13 481.33 93.67 481.84C94.21 482.35 94.75 482.87 95.32 483.39C95.88 483.92 96.45 484.45 97.04 484.98C97.63 485.52 98.23 486.05 98.85 486.6C99.46 487.14 100.09 487.69 100.73 488.25C101.37 488.8 102.02 489.36 102.69 489.92C103.36 490.48 104.04 491.05 104.73 491.62C105.42 492.19 106.13 492.77 106.85 493.35C107.57 493.93 108.3 494.51 109.04 495.1C109.79 495.68 110.55 496.27 111.32 496.87C112.09 497.46 112.87 498.06 113.67 498.65C114.47 499.25 115.28 499.86 116.1 500.46C116.93 501.06 117.76 501.67 118.61 502.28C119.46 502.89 120.33 503.5 121.2 504.11C122.08 504.73 122.97 505.34 123.87 505.96C124.77 506.58 125.69 507.2 126.61 507.82C127.54 508.44 128.48 509.06 129.44 509.68C130.39 510.3 131.36 510.92 132.34 511.55C133.32 512.17 134.32 512.8 135.32 513.42C136.33 514.05 137.35 514.67 138.38 515.3C139.41 515.92 140.46 516.55 141.52 517.17C142.58 517.8 143.65 518.42 144.74 519.05C145.82 519.67 146.92 520.29 148.03 520.92C149.14 521.54 150.27 522.16 151.4 522.78C152.54 523.4 153.69 524.02 154.86 524.64C156.02 525.25 157.2 525.87 158.39 526.48C159.58 527.1 160.78 527.71 162 528.32C163.21 528.93 164.44 529.53 165.68 530.14C166.93 530.74 168.18 531.34 169.45 531.94C170.72 532.54 172 533.13 173.29 533.73C174.59 534.32 175.9 534.91 177.22 535.49C178.54 536.08 179.87 536.66 181.22 537.24C182.56 537.81 183.92 538.39 185.3 538.95C186.67 539.52 188.06 540.09 189.45 540.64C190.85 541.2 192.27 541.76 193.69 542.31C195.12 542.86 196.55 543.4 198.01 543.94C199.46 544.48 201.67 545.27 202.4 545.54" fill="none" stroke="#0000ff" stroke-width="1.25" stroke-linejoin="round" />
<rect x="77.2" y="453.4" width="128.1" height="127.4" fill="none" stroke="#000" stroke-width="1.3"/>
<line x1="113.7" y1="580.8" x2="113.7" y2="575.2" stroke="#000" stroke-width="1.0" />
<line x1="113.7" y1="453.4" x2="113.7" y2="459" stroke="#000" stroke-width="1.0" />
<line x1="150.2" y1="580.8" x2="150.2" y2="575.2" stroke="#000" stroke-width="1.0" />
<line x1="150.2" y1="453.4" x2="150.2" y2="459" stroke="#000" stroke-width="1.0" />
<line x1="186.7" y1="580.8" x2="186.7" y2="575.2" stroke="#000" stroke-width="1.0" />
<line x1="186.7" y1="453.4" x2="186.7" y2="459" stroke="#000" stroke-width="1.0" />
<line x1="95.45" y1="580.8" x2="95.45" y2="577" stroke="#000" stroke-width="1.0" />
<line x1="95.45" y1="453.4" x2="95.45" y2="457.2" stroke="#000" stroke-width="1.0" />
<line x1="131.95" y1="580.8" x2="131.95" y2="577" stroke="#000" stroke-width="1.0" />
<line x1="131.95" y1="453.4" x2="131.95" y2="457.2" stroke="#000" stroke-width="1.0" />
<line x1="168.45" y1="580.8" x2="168.45" y2="577" stroke="#000" stroke-width="1.0" />
<line x1="168.45" y1="453.4" x2="168.45" y2="457.2" stroke="#000" stroke-width="1.0" />
<line x1="77.2" y1="538.33" x2="82.8" y2="538.33" stroke="#000" stroke-width="1.0" />
<line x1="205.3" y1="538.33" x2="199.7" y2="538.33" stroke="#000" stroke-width="1.0" />
<line x1="77.2" y1="495.86" x2="82.8" y2="495.86" stroke="#000" stroke-width="1.0" />
<line x1="205.3" y1="495.86" x2="199.7" y2="495.86" stroke="#000" stroke-width="1.0" />
<line x1="77.2" y1="559.56" x2="81" y2="559.56" stroke="#000" stroke-width="1.0" />
<line x1="205.3" y1="559.56" x2="201.5" y2="559.56" stroke="#000" stroke-width="1.0" />
<line x1="77.2" y1="517.09" x2="81" y2="517.09" stroke="#000" stroke-width="1.0" />
<line x1="205.3" y1="517.09" x2="201.5" y2="517.09" stroke="#000" stroke-width="1.0" />
<line x1="77.2" y1="474.62" x2="81" y2="474.62" stroke="#000" stroke-width="1.0" />
<line x1="205.3" y1="474.62" x2="201.5" y2="474.62" stroke="#000" stroke-width="1.0" />
<text x="71.2" y="586.2" font-size="14.8" text-anchor="end" font-family='"Liberation Sans", sans-serif' font-weight="normal" >0.25</text>
<text x="71.2" y="543.73" font-size="14.8" text-anchor="end" font-family='"Liberation Sans", sans-serif' font-weight="normal" >0.3</text>
<text x="71.2" y="501.26" font-size="14.8" text-anchor="end" font-family='"Liberation Sans", sans-serif' font-weight="normal" >0.35</text>
<text x="71.2" y="458.79" font-size="14.8" text-anchor="end" font-family='"Liberation Sans", sans-serif' font-weight="normal" >0.4</text>
<text x="76.8" y="600.3" font-size="15.4" text-anchor="middle" font-family='"Liberation Sans", sans-serif' font-weight="normal" >0</text>
<text x="113.3" y="600.3" font-size="15.4" text-anchor="middle" font-family='"Liberation Sans", sans-serif' font-weight="normal" >0.1</text>
<text x="149.8" y="600.3" font-size="15.4" text-anchor="middle" font-family='"Liberation Sans", sans-serif' font-weight="normal" >0.2</text>
<text x="186.3" y="600.3" font-size="15.4" text-anchor="middle" font-family='"Liberation Sans", sans-serif' font-weight="normal" >0.3</text>
<line x1="89" y1="548.8" x2="106.5" y2="548.8" stroke="#0000ff" stroke-width="1.15" />
<line x1="89" y1="565.1" x2="106.5" y2="565.1" stroke="#ff0000" stroke-width="1.15" />
<text x="115.8" y="553.4" font-size="14.7" text-anchor="start" font-family='"Liberation Sans", sans-serif' font-weight="normal" >bonding</text>
<text x="115.8" y="570.2" font-size="14.7" text-anchor="start" font-family='"Liberation Sans", sans-serif' font-weight="normal" >antibonding</text>
<text transform="translate(30.5 565.8) rotate(-90)" font-size="16.85" font-family='"Liberation Sans", sans-serif'>nodal k<tspan font-size="12" dy="3">F</tspan><tspan dy="-3"> [Å</tspan><tspan font-size="12" dy="-6">-1</tspan><tspan dy="6">]</tspan></text>
<text x="105.7" y="620" font-size="17" font-family='"Liberation Sans", sans-serif'>doping, <tspan font-family='"Liberation Serif", serif' font-size="19.5">δ</tspan></text>
<text x="223.8" y="432" font-size="17" text-anchor="start" font-family='"Liberation Sans", sans-serif' font-weight="normal" >(f)</text>
<path d="M298.9 540.1C299.3 538.66 300.49 534.25 301.28 531.51C302.07 528.77 302.87 526.17 303.66 523.67C304.46 521.17 305.25 518.79 306.04 516.52C306.84 514.25 307.63 512.09 308.42 510.03C309.22 507.96 310.01 506.01 310.81 504.15C311.6 502.28 312.39 500.52 313.19 498.84C313.98 497.15 314.77 495.57 315.57 494.06C316.36 492.54 317.15 491.12 317.95 489.77C318.74 488.41 319.54 487.14 320.33 485.93C321.12 484.72 321.92 483.58 322.71 482.5C323.5 481.42 324.3 480.41 325.09 479.46C325.88 478.5 326.68 477.6 327.47 476.75C328.27 475.91 329.06 475.11 329.85 474.36C330.65 473.61 331.44 472.92 332.23 472.26C333.03 471.6 333.82 470.98 334.62 470.41C335.41 469.83 336.2 469.29 337 468.78C337.79 468.28 338.58 467.81 339.38 467.37C340.17 466.93 340.96 466.52 341.76 466.14C342.55 465.75 343.35 465.4 344.14 465.07C344.93 464.74 345.73 464.44 346.52 464.15C347.31 463.87 348.11 463.61 348.9 463.37C349.69 463.13 350.49 462.91 351.28 462.7C352.08 462.5 352.87 462.32 353.66 462.15C354.46 461.98 355.25 461.83 356.04 461.7C356.84 461.56 357.63 461.45 358.43 461.34C359.22 461.24 360.01 461.15 360.81 461.07C361.6 461 362.39 460.93 363.19 460.89C363.98 460.84 364.77 460.81 365.57 460.78C366.36 460.76 367.16 460.76 367.95 460.76C368.74 460.77 369.54 460.79 370.33 460.82C371.12 460.86 371.92 460.9 372.71 460.97C373.51 461.03 374.3 461.1 375.09 461.19C375.89 461.28 376.68 461.39 377.47 461.51C378.27 461.63 379.06 461.76 379.85 461.91C380.65 462.06 381.44 462.23 382.24 462.41C383.03 462.6 383.82 462.8 384.62 463.01C385.41 463.23 386.2 463.46 387 463.71C387.79 463.97 388.58 464.23 389.38 464.52C390.17 464.81 390.97 465.12 391.76 465.44C392.55 465.77 393.35 466.11 394.14 466.48C394.93 466.84 395.73 467.22 396.52 467.63C397.32 468.03 398.11 468.46 398.9 468.9C399.7 469.35 400.49 469.81 401.28 470.3C402.08 470.78 402.87 471.29 403.66 471.82C404.46 472.35 405.25 472.89 406.05 473.46C406.84 474.03 407.63 474.62 408.43 475.23C409.22 475.84 410.01 476.47 410.81 477.12C411.6 477.77 412.39 478.44 413.19 479.13C413.98 479.82 414.78 480.53 415.57 481.26C416.36 481.98 417.16 482.73 417.95 483.49C418.74 484.25 419.54 485.03 420.33 485.83C421.13 486.62 421.92 487.44 422.71 488.26C423.51 489.09 424.3 489.93 425.09 490.78C425.89 491.63 426.68 492.5 427.47 493.38C428.27 494.26 429.06 495.15 429.86 496.04C430.65 496.94 431.44 497.85 432.24 498.76C433.03 499.67 433.82 500.59 434.62 501.52C435.41 502.44 436.21 503.37 437 504.3C437.79 505.23 438.59 506.16 439.38 507.1C440.17 508.03 440.97 508.96 441.76 509.89C442.55 510.82 443.35 511.75 444.14 512.67C444.94 513.59 445.73 514.51 446.52 515.41C447.32 516.32 448.11 517.22 448.9 518.11C449.7 519 450.49 519.88 451.28 520.75C452.08 521.62 452.87 522.47 453.67 523.32C454.46 524.16 455.25 524.99 456.05 525.8C456.84 526.61 457.63 527.4 458.43 528.18C459.22 528.96 460.02 529.72 460.81 530.47C461.6 531.21 462.4 531.94 463.19 532.65C463.98 533.36 464.78 534.05 465.57 534.72C466.36 535.39 467.16 536.05 467.95 536.69C468.75 537.32 469.54 537.94 470.33 538.55C471.13 539.16 471.92 539.75 472.71 540.33C473.51 540.92 474.3 541.48 475.09 542.04C475.89 542.61 476.68 543.16 477.48 543.71C478.27 544.26 479.06 544.81 479.86 545.36C480.65 545.92 481.44 546.47 482.24 547.04C483.03 547.61 483.83 548.19 484.62 548.79C485.41 549.4 486.6 550.36 487 550.68" fill="none" stroke="#ff0000" stroke-width="1.25" stroke-linejoin="round" />
<rect x="296.8" y="454.9" width="191.2" height="127.7" fill="none" stroke="#000" stroke-width="1.3"/>
<line x1="339.27" y1="582.6" x2="339.27" y2="577" stroke="#000" stroke-width="1.0" />
<line x1="339.27" y1="454.9" x2="339.27" y2="460.5" stroke="#000" stroke-width="1.0" />
<line x1="381.74" y1="582.6" x2="381.74" y2="577" stroke="#000" stroke-width="1.0" />
<line x1="381.74" y1="454.9" x2="381.74" y2="460.5" stroke="#000" stroke-width="1.0" />
<line x1="424.21" y1="582.6" x2="424.21" y2="577" stroke="#000" stroke-width="1.0" />
<line x1="424.21" y1="454.9" x2="424.21" y2="460.5" stroke="#000" stroke-width="1.0" />
<line x1="466.68" y1="582.6" x2="466.68" y2="577" stroke="#000" stroke-width="1.0" />
<line x1="466.68" y1="454.9" x2="466.68" y2="460.5" stroke="#000" stroke-width="1.0" />
<line x1="318.04" y1="582.6" x2="318.04" y2="578.7" stroke="#000" stroke-width="1.0" />
<line x1="318.04" y1="454.9" x2="318.04" y2="458.8" stroke="#000" stroke-width="1.0" />
<line x1="360.5" y1="582.6" x2="360.5" y2="578.7" stroke="#000" stroke-width="1.0" />
<line x1="360.5" y1="454.9" x2="360.5" y2="458.8" stroke="#000" stroke-width="1.0" />
<line x1="402.98" y1="582.6" x2="402.98" y2="578.7" stroke="#000" stroke-width="1.0" />
<line x1="402.98" y1="454.9" x2="402.98" y2="458.8" stroke="#000" stroke-width="1.0" />
<line x1="445.44" y1="582.6" x2="445.44" y2="578.7" stroke="#000" stroke-width="1.0" />
<line x1="445.44" y1="454.9" x2="445.44" y2="458.8" stroke="#000" stroke-width="1.0" />
<line x1="296.8" y1="541.45" x2="302.4" y2="541.45" stroke="#000" stroke-width="1.0" />
<line x1="488" y1="541.45" x2="482.4" y2="541.45" stroke="#000" stroke-width="1.0" />
<line x1="296.8" y1="500.3" x2="302.4" y2="500.3" stroke="#000" stroke-width="1.0" />
<line x1="488" y1="500.3" x2="482.4" y2="500.3" stroke="#000" stroke-width="1.0" />
<line x1="296.8" y1="459.15" x2="302.4" y2="459.15" stroke="#000" stroke-width="1.0" />
<line x1="488" y1="459.15" x2="482.4" y2="459.15" stroke="#000" stroke-width="1.0" />
<line x1="296.8" y1="562.02" x2="300.7" y2="562.02" stroke="#000" stroke-width="1.0" />
<line x1="488" y1="562.02" x2="484.1" y2="562.02" stroke="#000" stroke-width="1.0" />
<line x1="296.8" y1="520.88" x2="300.7" y2="520.88" stroke="#000" stroke-width="1.0" />
<line x1="488" y1="520.88" x2="484.1" y2="520.88" stroke="#000" stroke-width="1.0" />
<line x1="296.8" y1="479.73" x2="300.7" y2="479.73" stroke="#000" stroke-width="1.0" />
<line x1="488" y1="479.73" x2="484.1" y2="479.73" stroke="#000" stroke-width="1.0" />
<text x="290.6" y="588" font-size="15.2" text-anchor="end" font-family='"Liberation Sans", sans-serif' font-weight="normal" >0</text>
<text x="290.6" y="546.85" font-size="15.2" text-anchor="end" font-family='"Liberation Sans", sans-serif' font-weight="normal" >0.02</text>
<text x="290.6" y="505.7" font-size="15.2" text-anchor="end" font-family='"Liberation Sans", sans-serif' font-weight="normal" >0.04</text>
<text x="290.6" y="464.55" font-size="15.2" text-anchor="end" font-family='"Liberation Sans", sans-serif' font-weight="normal" >0.06</text>
<text x="296.4" y="603" font-size="15.4" text-anchor="middle" font-family='"Liberation Sans", sans-serif' font-weight="normal" >0</text>
<text x="338.87" y="603" font-size="15.4" text-anchor="middle" font-family='"Liberation Sans", sans-serif' font-weight="normal" >0.1</text>
<text x="381.34" y="603" font-size="15.4" text-anchor="middle" font-family='"Liberation Sans", sans-serif' font-weight="normal" >0.2</text>
<text x="423.81" y="603" font-size="15.4" text-anchor="middle" font-family='"Liberation Sans", sans-serif' font-weight="normal" >0.3</text>
<text x="466.28" y="603" font-size="15.4" text-anchor="middle" font-family='"Liberation Sans", sans-serif' font-weight="normal" >0.4</text>
<text transform="translate(251.2 589.5) rotate(-90)" font-size="17" font-family='"Liberation Sans", sans-serif'>correlated gap, Δ<tspan font-size="12" dy="3">G</tspan></text>
<text x="357" y="622.9" font-size="17" font-family='"Liberation Sans", sans-serif'>doping, <tspan font-family='"Liberation Serif", serif' font-size="19.5">δ</tspan></text>
</svg>
</body></html>
